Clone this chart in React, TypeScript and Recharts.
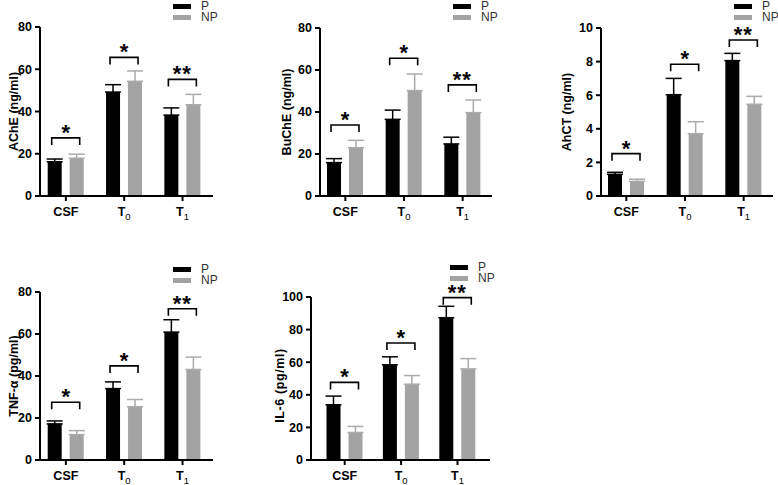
import React from 'react';
import { BarChart, Bar, XAxis, YAxis, ErrorBar, Legend, LabelList } from 'recharts';

// ---------- data ----------
const categories = ['CSF', 'T0', 'T1'];
const seriesNames = ['P', 'NP'];

const acheP = [16.2, 49.2, 38.3];
const achePErr = [1.3, 3.5, 3.4];
const acheNP = [17.9, 54.3, 43.2];
const acheNPErr = [1.9, 4.9, 4.9];
const acheBracket = [27.5, 65.6, 55.2];

const bucheP = [15.9, 36.5, 24.8];
const buchePErr = [1.9, 4.4, 3.2];
const bucheNP = [23.0, 50.2, 39.7];
const bucheNPErr = [3.5, 7.9, 6.0];
const bucheBracket = [33.8, 65.6, 52.9];

const ahctP = [1.29, 6.03, 8.06];
const ahctPErr = [0.12, 0.97, 0.43];
const ahctNP = [0.87, 3.71, 5.46];
const ahctNPErr = [0.13, 0.71, 0.47];
const ahctBracket = [2.52, 7.84, 9.29];

const tnfP = [17.2, 34.0, 60.9];
const tnfPErr = [1.4, 3.2, 5.9];
const tnfNP = [12.1, 25.4, 43.1];
const tnfNPErr = [1.9, 3.4, 5.9];
const tnfBracket = [27.5, 44.8, 72.0];

const il6P = [33.9, 58.4, 87.3];
const il6PErr = [5.3, 4.9, 7.0];
const il6NP = [16.9, 46.5, 55.9];
const il6NPErr = [3.7, 5.3, 6.3];
const il6Bracket = [47.6, 71.8, 99.6];

const significance = ['*', '*', '**'];

const ticks80 = [0, 20, 40, 60, 80];
const ticks10 = [0, 2, 4, 6, 8, 10];
const ticks100 = [0, 20, 40, 60, 80, 100];

// ---------- style ----------
const FONT = '"Liberation Sans", Arial, Helvetica, sans-serif';
const P_COLOR = '#000000';
const NP_COLOR = '#a3a3a3';
const NP_ERR_COLOR = '#ababab';
const BAR_SIZE = 14;
const BAR_GAP = 8;

const XTick = (props: any) => {
  const { x, y, payload } = props;
  const v: string = String(payload.value);
  const isT = v.startsWith('T');
  return (
    <text x={x} y={y} dy="0.71em" textAnchor="middle" fontFamily={FONT} fontSize={12.5} fontWeight="bold" fill="#000">
      {isT ? (
        <>
          <tspan>T</tspan>
          <tspan fontSize={9.5} fontWeight="normal" dy={4}>{v.slice(1)}</tspan>
        </>
      ) : (
        v
      )}
    </text>
  );
};

type Cfg = {
  left: number; top: number; width: number; height: number;
  plotLeft: number; plotTop: number; plotRight: number; plotBottom: number;
  padL: number; padR: number;
  legendX: number; legendY: number;
  labelX: number; labelDy: number; labelSize: number; labelSpacing: number;
};

function Panel(props: {
  cfg: Cfg; p: number[]; pErr: number[]; np: number[]; npErr: number[];
  bracket: number[]; yLabel: string; domain: [number, number]; ticks: number[];
}) {
  const { cfg, p, pErr, np, npErr, bracket, yLabel, domain, ticks } = props;
  const data = categories.map((c, i) => ({
    cat: c,
    [seriesNames[0]]: p[i],
    [seriesNames[1]]: np[i],
    pErr: [0, pErr[i]],
    npErr: [0, npErr[i]],
  }));
  const xAxisH = 20;
  const margin = {
    top: cfg.plotTop,
    right: cfg.width - cfg.plotRight,
    bottom: cfg.height - cfg.plotBottom - xAxisH,
    left: 0,
  };

  const renderBracket = (lp: any) => {
    const vb = lp.viewBox && lp.viewBox.width !== undefined ? lp.viewBox : lp;
    const x = Number(vb.x);
    const y = Number(vb.y);
    const w = Number(vb.width);
    const h = Number(vb.height);
    const idx = categories.indexOf(String(lp.value));
    if (idx < 0 || !isFinite(x)) return null;
    const base = Math.max(y, y + h);
    const scale = Math.abs(h) / np[idx];
    const by = base - bracket[idx] * scale;
    const x1 = x - BAR_GAP - w + 4;
    const x2 = x + w - 4;
    const cx = (x1 + x2) / 2;
    return (
      <g key={`br-${idx}`}>
        <path d={`M${x1},${by + 7}V${by}H${x2}V${by + 7}`} stroke="#000" strokeWidth={1.6} fill="none" />
        <text x={cx} y={by + 2} textAnchor="middle" fontFamily={FONT} fontSize={22} fontWeight="bold" fill="#000" letterSpacing={significance[idx].length > 1 ? 1 : 0}>
          {significance[idx]}
        </text>
      </g>
    );
  };

  const renderYLabel = (lp: any) => {
    const vb = lp.viewBox || {};
    const cy = Number(vb.y) + Number(vb.height) / 2 + cfg.labelDy;
    return (
      <text
        x={cfg.labelX}
        y={cy}
        transform={`rotate(-90 ${cfg.labelX} ${cy})`}
        textAnchor="middle"
        dominantBaseline="central"
        fontFamily={FONT}
        fontSize={cfg.labelSize}
        letterSpacing={cfg.labelSpacing}
        fontWeight="bold"
        fill="#000"
      >
        {yLabel}
      </text>
    );
  };

  const renderLegend = (lp: any) => {
    const payload = [...(lp.payload || [])].sort(
      (a: any, b: any) => seriesNames.indexOf(String(a.value)) - seriesNames.indexOf(String(b.value))
    );
    return (
      <div style={{ fontFamily: FONT }}>
        {payload.map((e: any, i: number) => (
          <div key={i} style={{ display: 'flex', alignItems: 'center', height: 11.5 }}>
            <span style={{ display: 'inline-block', width: 18, height: 5, background: e.color }} />
            <span style={{ marginLeft: 10, fontSize: 12, lineHeight: '11px', color: '#333' }}>{e.value}</span>
          </div>
        ))}
      </div>
    );
  };

  return (
    <div style={{ position: 'absolute', left: cfg.left, top: cfg.top, width: cfg.width, height: cfg.height }}>
      <BarChart width={cfg.width} height={cfg.height} data={data} margin={margin} barSize={BAR_SIZE} barGap={BAR_GAP}>
        <XAxis
          dataKey="cat"
          height={xAxisH}
          padding={{ left: cfg.padL, right: cfg.padR }}
          stroke="#000"
          axisLine={{ stroke: '#000', strokeWidth: 2 }}
          tickLine={{ stroke: '#000', strokeWidth: 2 }}
          tickSize={5}
          tickMargin={6}
          interval={0}
          tick={<XTick />}
        />
        <YAxis
          type="number"
          width={cfg.plotLeft}
          domain={domain}
          ticks={ticks}
          interval={0}
          allowDataOverflow
          stroke="#000"
          axisLine={{ stroke: '#000', strokeWidth: 2 }}
          tickLine={{ stroke: '#000', strokeWidth: 2 }}
          tickSize={5}
          tickMargin={3}
          tick={{ fontSize: 12.5, fontWeight: 'bold', fill: '#000', fontFamily: FONT }}
          label={{ content: renderYLabel }}
        />
        <Legend
          layout="vertical"
          align="center"
          verticalAlign="middle"
          content={renderLegend}
          wrapperStyle={{ left: cfg.legendX, top: cfg.legendY, width: 60, height: 24, margin: 0, padding: 0 }}
        />
        <Bar dataKey={seriesNames[0]} name={seriesNames[0]} fill={P_COLOR} isAnimationActive={false}>
          <ErrorBar dataKey="pErr" width={8} stroke={P_COLOR} strokeWidth={1.5} direction="y" />
        </Bar>
        <Bar dataKey={seriesNames[1]} name={seriesNames[1]} fill={NP_COLOR} isAnimationActive={false}>
          <ErrorBar dataKey="npErr" width={8} stroke={NP_ERR_COLOR} strokeWidth={1.5} direction="y" />
          <LabelList dataKey="cat" content={renderBracket} />
        </Bar>
      </BarChart>
    </div>
  );
}

const cfgAche: Cfg = { left: 0, top: 0, width: 260, height: 240, plotLeft: 40, plotTop: 27, plotRight: 213, plotBottom: 196, padL: -3.3, padR: 1.3, legendX: 173, legendY: 0.5, labelX: 14, labelDy: 0, labelSize: 12.5, labelSpacing: 0 };
const cfgBuche: Cfg = { left: 260, top: 0, width: 260, height: 240, plotLeft: 60, plotTop: 28, plotRight: 232, plotBottom: 196, padL: -4, padR: 0, legendX: 193, legendY: 0.5, labelX: 27, labelDy: 0, labelSize: 12.5, labelSpacing: 0 };
const cfgAhct: Cfg = { left: 520, top: 0, width: 258, height: 240, plotLeft: 81, plotTop: 28, plotRight: 253, plotBottom: 196, padL: -4, padR: 0, legendX: 214, legendY: 0.5, labelX: 47, labelDy: 0, labelSize: 12.5, labelSpacing: 0 };
const cfgTnf: Cfg = { left: 0, top: 240, width: 260, height: 245, plotLeft: 40, plotTop: 52, plotRight: 213, plotBottom: 220, padL: -3.3, padR: 1.3, legendX: 173, legendY: 23.5, labelX: 14, labelDy: 0, labelSize: 12.5, labelSpacing: 0 };
const cfgIl6: Cfg = { left: 260, top: 240, width: 260, height: 245, plotLeft: 51, plotTop: 57, plotRight: 230, plotBottom: 220, padL: 5.5, padR: 4.3, legendX: 190, legendY: 21.5, labelX: 20, labelDy: 7, labelSize: 12.5, labelSpacing: 0.6 };

export default function App() {
  return (
    <div style={{ position: 'absolute', left: 0, top: 0, width: 778, height: 485, background: '#fff', overflow: 'hidden', fontFamily: FONT }}>
      <Panel cfg={cfgAche} p={acheP} pErr={achePErr} np={acheNP} npErr={acheNPErr} bracket={acheBracket} yLabel="AChE (ng/ml)" domain={[0, 80]} ticks={ticks80} />
      <Panel cfg={cfgBuche} p={bucheP} pErr={buchePErr} np={bucheNP} npErr={bucheNPErr} bracket={bucheBracket} yLabel="BuChE (ng/ml)" domain={[0, 80]} ticks={ticks80} />
      <Panel cfg={cfgAhct} p={ahctP} pErr={ahctPErr} np={ahctNP} npErr={ahctNPErr} bracket={ahctBracket} yLabel="AhCT (ng/ml)" domain={[0, 10]} ticks={ticks10} />
      <Panel cfg={cfgTnf} p={tnfP} pErr={tnfPErr} np={tnfNP} npErr={tnfNPErr} bracket={tnfBracket} yLabel="TNF-α (pg/ml)" domain={[0, 80]} ticks={ticks80} />
      <Panel cfg={cfgIl6} p={il6P} pErr={il6PErr} np={il6NP} npErr={il6NPErr} bracket={il6Bracket} yLabel="IL-6 (pg/ml)" domain={[0, 100]} ticks={ticks100} />
    </div>
  );
}
